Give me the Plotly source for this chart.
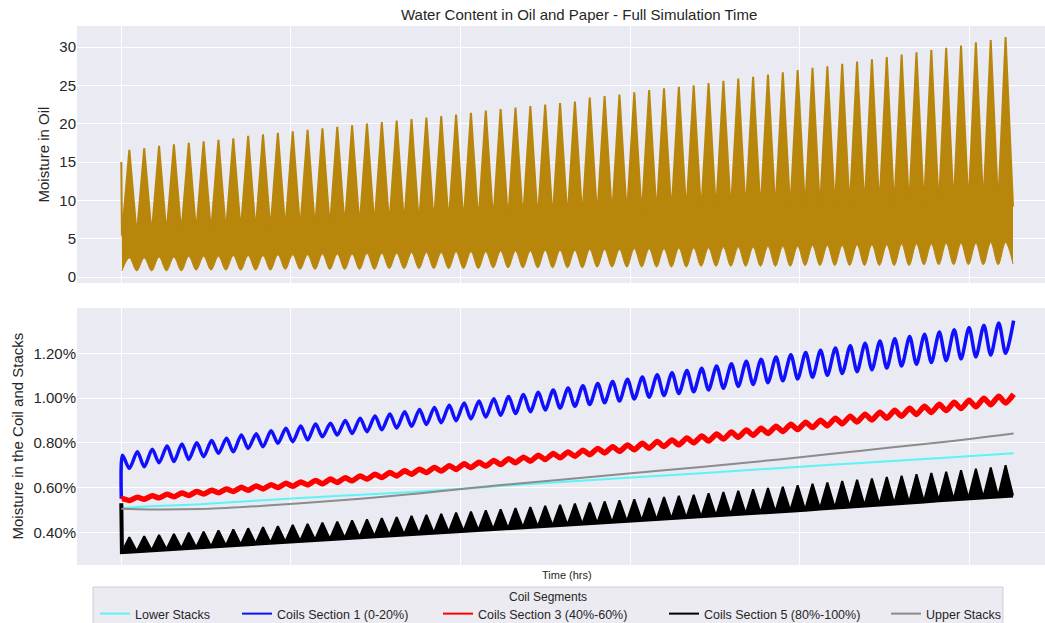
import plotly.graph_objects as go

# ---------------- Moisture in oil (ppm) ----------------
# daily cycles: spike maxima / lower-band humps at the spike times,
# band tops / band bottoms at the times between spikes
oil_start = 15.0
oil_peak = [16.6, 16.8, 17.1, 17.3, 17.5, 17.7, 17.9, 18.1, 18.4, 18.6,
            18.8, 19.0, 19.2, 19.4, 19.6, 19.8, 20.0, 20.2, 20.4, 20.6,
            20.8, 21.0, 21.2, 21.4, 21.7, 21.9, 22.1, 22.3, 22.5, 22.7,
            22.9, 23.4, 23.6, 23.8, 24.1, 24.4, 24.6, 24.8, 25.0, 25.3,
            25.6, 25.9, 26.1, 26.4, 26.7, 27.0, 27.3, 27.5, 27.8, 28.1,
            28.4, 28.7, 29.0, 29.3, 29.6, 29.9, 30.2, 30.6, 30.9, 31.3]
oil_band_top = [5.4, 5.4, 5.5, 5.6, 5.7, 5.8, 5.8, 5.9, 6.0, 6.0,
                6.1, 6.2, 6.2, 6.3, 6.4, 6.5, 6.5, 6.6, 6.7, 6.8,
                6.8, 6.9, 7.0, 7.0, 7.1, 7.2, 7.3, 7.4, 7.4, 7.5,
                7.6, 7.7, 7.8, 7.9, 8.0, 8.0, 8.1, 8.2, 8.3, 8.3,
                8.4, 8.4, 8.5, 8.5, 8.6, 8.6, 8.7, 8.7, 8.8, 8.8,
                8.8, 8.9, 8.9, 9.0, 9.0, 9.0, 9.1, 9.1, 9.2, 9.2, 9.2]
oil_hump = [2.5, 2.5, 2.6, 2.6, 2.7, 2.7, 2.7, 2.8, 2.8, 2.8,
            2.9, 2.9, 2.9, 3.0, 3.0, 3.0, 3.1, 3.1, 3.1, 3.2,
            3.2, 3.2, 3.3, 3.3, 3.3, 3.4, 3.4, 3.4, 3.5, 3.5,
            3.5, 3.6, 3.6, 3.6, 3.7, 3.7, 3.7, 3.8, 3.8, 3.8,
            3.9, 3.9, 3.9, 4.0, 4.0, 4.0, 4.1, 4.1, 4.1, 4.2,
            4.2, 4.2, 4.3, 4.3, 4.3, 4.4, 4.4, 4.4, 4.5, 4.5]
oil_trough = [0.8, 0.8, 0.8, 0.8, 0.8, 0.9, 0.9, 0.9, 0.9, 0.9,
              0.9, 1.0, 1.0, 1.0, 1.0, 1.0, 1.0, 1.0, 1.1, 1.1,
              1.1, 1.1, 1.1, 1.1, 1.1, 1.2, 1.2, 1.2, 1.2, 1.2,
              1.2, 1.2, 1.3, 1.3, 1.3, 1.3, 1.3, 1.3, 1.3, 1.4,
              1.4, 1.4, 1.4, 1.4, 1.4, 1.4, 1.5, 1.5, 1.5, 1.5,
              1.5, 1.5, 1.5, 1.5, 1.6, 1.6, 1.6, 1.6, 1.6, 1.6, 1.7]

# ---------------- Moisture in coils and stacks (%) ----------------
coil1_start = 0.55
coil1_high = [0.745, 0.760, 0.771, 0.786, 0.795, 0.800, 0.810, 0.820, 0.835, 0.840,
              0.854, 0.865, 0.875, 0.884, 0.887, 0.900, 0.910, 0.920, 0.929, 0.939,
              0.949, 0.958, 0.968, 0.978, 0.987, 0.997, 1.007, 1.016, 1.026, 1.036,
              1.045, 1.055, 1.065, 1.074, 1.084, 1.094, 1.104, 1.113, 1.123, 1.133,
              1.143, 1.153, 1.164, 1.174, 1.184, 1.194, 1.204, 1.214, 1.224, 1.234,
              1.245, 1.255, 1.265, 1.275, 1.285, 1.295, 1.305, 1.315, 1.325, 1.336, 1.346]
coil1_low = [0.686, 0.693, 0.711, 0.716, 0.726, 0.738, 0.753, 0.760, 0.775, 0.783,
             0.798, 0.805, 0.813, 0.827, 0.835, 0.842, 0.850, 0.858, 0.866, 0.874,
             0.882, 0.890, 0.899, 0.907, 0.915, 0.923, 0.931, 0.939, 0.947, 0.955,
             0.963, 0.971, 0.979, 0.987, 0.996, 1.004, 1.012, 1.020, 1.028, 1.036,
             1.044, 1.052, 1.061, 1.069, 1.077, 1.085, 1.093, 1.102, 1.110, 1.118,
             1.126, 1.134, 1.143, 1.151, 1.159, 1.167, 1.175, 1.184, 1.192, 1.200]

coil3_start = 0.55
coil3_high = [0.551, 0.557, 0.563, 0.570, 0.576, 0.582, 0.588, 0.594, 0.601, 0.607,
              0.613, 0.619, 0.625, 0.632, 0.638, 0.644, 0.652, 0.659, 0.667, 0.675,
              0.682, 0.690, 0.698, 0.706, 0.713, 0.721, 0.729, 0.736, 0.744, 0.752,
              0.759, 0.767, 0.775, 0.783, 0.790, 0.798, 0.806, 0.813, 0.821, 0.830,
              0.839, 0.848, 0.857, 0.865, 0.874, 0.883, 0.892, 0.901, 0.910, 0.919,
              0.928, 0.937, 0.945, 0.954, 0.963, 0.972, 0.981, 0.990, 0.999, 1.008, 1.017]
coil3_low = [0.542, 0.548, 0.554, 0.559, 0.565, 0.571, 0.577, 0.583, 0.588, 0.594,
             0.600, 0.606, 0.612, 0.617, 0.623, 0.630, 0.638, 0.645, 0.652, 0.660,
             0.667, 0.674, 0.681, 0.689, 0.696, 0.703, 0.711, 0.718, 0.725, 0.733,
             0.740, 0.747, 0.755, 0.762, 0.769, 0.776, 0.784, 0.791, 0.800, 0.808,
             0.817, 0.825, 0.834, 0.842, 0.851, 0.859, 0.868, 0.876, 0.885, 0.893,
             0.902, 0.910, 0.919, 0.927, 0.936, 0.944, 0.953, 0.961, 0.970, 0.978]

coil5_start = 0.53
coil5_peak = [0.378, 0.383, 0.388, 0.393, 0.398, 0.403, 0.408, 0.413, 0.418, 0.423,
              0.428, 0.433, 0.438, 0.443, 0.448, 0.453, 0.458, 0.463, 0.468, 0.473,
              0.478, 0.483, 0.488, 0.493, 0.498, 0.503, 0.508, 0.513, 0.518, 0.523,
              0.528, 0.533, 0.538, 0.543, 0.548, 0.553, 0.558, 0.563, 0.568, 0.574,
              0.580, 0.586, 0.592, 0.598, 0.604, 0.610, 0.617, 0.623, 0.629, 0.635,
              0.641, 0.647, 0.653, 0.659, 0.665, 0.671, 0.677, 0.684, 0.690, 0.700]
coil5_base = [0.312, 0.316, 0.320, 0.325, 0.329, 0.333, 0.337, 0.341, 0.346, 0.350,
              0.354, 0.358, 0.362, 0.367, 0.371, 0.375, 0.379, 0.383, 0.387, 0.391,
              0.394, 0.398, 0.402, 0.406, 0.410, 0.414, 0.418, 0.422, 0.426, 0.430,
              0.433, 0.437, 0.441, 0.445, 0.449, 0.453, 0.457, 0.461, 0.465, 0.469,
              0.474, 0.478, 0.483, 0.487, 0.492, 0.497, 0.501, 0.506, 0.510, 0.515,
              0.520, 0.524, 0.529, 0.533, 0.538, 0.543, 0.547, 0.552, 0.556, 0.561, 0.565]

# stacks: slow curves sampled at these times (hrs)
stack_t = [0, 47, 128, 209, 290, 387, 484, 602, 710, 824, 937, 1067, 1196, 1325, 1442]
lower_stacks = [0.508, 0.516, 0.526, 0.540, 0.553, 0.568, 0.583, 0.605, 0.625, 0.645,
                0.664, 0.688, 0.710, 0.732, 0.753]
upper_stacks = [0.505, 0.502, 0.504, 0.515, 0.530, 0.550, 0.575, 0.608, 0.635, 0.664,
                0.692, 0.727, 0.765, 0.803, 0.842]

y2_ticks = [0.4, 0.6, 0.8, 1.0, 1.2]
y2_labels = ["0.40%", "0.60%", "0.80%", "1.00%", "1.20%"]

# legend entries: name, colour
series_names = ["Lower Stacks", "Coils Section 1 (0-20%)", "Coils Section 3 (40%-60%)",
                "Coils Section 5 (80%-100%)", "Upper Stacks"]
series_colors = ["#5CF5F5", "#1010FF", "#FF0000", "#000000", "#8C8C8C"]

# ---------------- time bases (hrs) ----------------
CYCLE = 24
spike_t = [13 + CYCLE * k for k in range(len(oil_peak))]
gap_t = [1 + CYCLE * k for k in range(len(oil_band_top))]
coil_hi_t = [2 + CYCLE * k for k in range(len(coil1_high))]
coil_lo_t = [13 + CYCLE * k for k in range(len(coil1_low))]


def interleave(xa, ya, xb, yb):
    xs, ys = [], []
    for i in range(len(xa)):
        xs.append(xa[i]); ys.append(ya[i])
        if i < len(xb):
            xs.append(xb[i]); ys.append(yb[i])
    return xs, ys


OIL = "#B8860B"
TXT = "#262626"
BG = "#EAEAF2"
W, H = 1045, 623
ML, MR, MT, MB = 77, 0, 26, 58
PH = H - MT - MB
PW = W - ML - MR


def px_x(p):
    return (p - ML) / PW


def px_y(p):
    return (H - MB - p) / PH


fig = go.Figure()

# oil moisture band
lo_x, lo_y = interleave(gap_t, oil_trough, spike_t, oil_hump)
hi_x, hi_y = interleave(gap_t, oil_band_top, spike_t, oil_peak)
fig.add_trace(go.Scatter(x=lo_x, y=lo_y, mode="lines", line=dict(color=OIL, width=1, shape="spline"),
                         xaxis="x", yaxis="y", showlegend=False, hoverinfo="skip"))
fig.add_trace(go.Scatter(x=[0] + hi_x, y=[oil_start] + hi_y, mode="lines",
                         line=dict(color=OIL, width=2), fill="tonexty", fillcolor=OIL,
                         xaxis="x", yaxis="y", showlegend=False, name="Moisture in Oil"))

# lower stacks
fig.add_trace(go.Scatter(x=stack_t, y=lower_stacks, mode="lines", name=series_names[0],
                         line=dict(color=series_colors[0], width=2, shape="spline"),
                         xaxis="x2", yaxis="y2", showlegend=False))

# coils section 1
c1x, c1y = interleave(coil_hi_t, coil1_high, coil_lo_t, coil1_low)
fig.add_trace(go.Scatter(x=[0] + c1x, y=[coil1_start] + c1y, mode="lines", name=series_names[1],
                         line=dict(color=series_colors[1], width=3.5, shape="spline", smoothing=0.8),
                         xaxis="x2", yaxis="y2", showlegend=False))

# coils section 3
c3x, c3y = interleave(coil_hi_t, coil3_high, coil_lo_t, coil3_low)
fig.add_trace(go.Scatter(x=[0] + c3x, y=[coil3_start] + c3y, mode="lines", name=series_names[2],
                         line=dict(color=series_colors[2], width=5.5, shape="spline", smoothing=0.6),
                         xaxis="x2", yaxis="y2", showlegend=False))

# coils section 5: base line plus filled daily peaks
fig.add_trace(go.Scatter(x=[0] + gap_t, y=[coil5_start] + coil5_base, mode="lines",
                         name=series_names[3], line=dict(color=series_colors[3], width=4),
                         xaxis="x2", yaxis="y2", showlegend=False))
c5x, c5y = interleave(gap_t, coil5_base, spike_t, coil5_peak)
fig.add_trace(go.Scatter(x=c5x, y=c5y, mode="lines", showlegend=False,
                         line=dict(color=series_colors[3], width=2), fill="tonexty",
                         fillcolor=series_colors[3], xaxis="x2", yaxis="y2", hoverinfo="skip"))

# upper stacks
fig.add_trace(go.Scatter(x=stack_t, y=upper_stacks, mode="lines", name=series_names[4],
                         line=dict(color=series_colors[4], width=2, shape="spline"),
                         xaxis="x2", yaxis="y2", showlegend=False))

# legend keys (thin lines), one legend per entry so each sits at its own column
legend_line_px = [100, 242, 443, 669, 891]
legend_layouts = {}
for i, (name, col) in enumerate(zip(series_names, series_colors)):
    lg = "legend" if i == 0 else f"legend{i + 1}"
    fig.add_trace(go.Scatter(x=[None], y=[None], mode="lines", name=name,
                             line=dict(color=col, width=2), xaxis="x2", yaxis="y2",
                             legend=lg, showlegend=True))
    legend_layouts[lg] = dict(orientation="h", x=px_x(legend_line_px[i] - 5), xanchor="left",
                              y=px_y(614), yanchor="middle", bgcolor="rgba(0,0,0,0)",
                              borderwidth=0, font=dict(size=12.5, color=TXT), itemwidth=30)

xaxis_common = dict(range=[-71.6, 1492.7], tick0=0, dtick=274.1, showticklabels=False,
                    showgrid=True, gridcolor="white", gridwidth=1, zeroline=False,
                    showline=False, ticks="")
fig.update_layout(
    width=W, height=H,
    margin=dict(l=ML, r=MR, t=MT, b=MB, autoexpand=False),
    paper_bgcolor="white", plot_bgcolor=BG,
    font=dict(family="Liberation Sans, Arial, sans-serif", color=TXT),
    xaxis=dict(domain=[0, 1], anchor="y", **xaxis_common),
    xaxis2=dict(domain=[0, 1], anchor="y2", matches="x", **xaxis_common),
    yaxis=dict(domain=[px_y(283), 1], anchor="x", range=[-0.78, 32.74], tick0=0, dtick=5,
               showgrid=True, gridcolor="white", gridwidth=1, zeroline=False, ticks="",
               tickfont=dict(size=15, color=TXT)),
    yaxis2=dict(domain=[0, px_y(308)], anchor="x2", range=[0.254, 1.4025],
                tickmode="array", tickvals=y2_ticks, ticktext=y2_labels,
                showgrid=True, gridcolor="white", gridwidth=1, zeroline=False, ticks="",
                tickfont=dict(size=15, color=TXT)),
    shapes=[
        # legend frame
        dict(type="rect", xref="paper", yref="paper", x0=px_x(93), x1=px_x(1003),
             y0=px_y(587), y1=px_y(650), fillcolor="#EBEBF1", line=dict(color="#CFCFD6", width=1),
             layer="below"),
    ],
    annotations=[
        dict(text="Water Content in Oil and Paper - Full Simulation Time", xref="paper", yref="paper",
             x=px_x(579), y=px_y(14), xanchor="center", yanchor="middle", showarrow=False,
             font=dict(size=15, color=TXT)),
        dict(text="Moisture in Oil", xref="paper", yref="paper", x=px_x(43), y=px_y(154.5),
             xanchor="center", yanchor="middle", textangle=-90, showarrow=False,
             font=dict(size=15, color=TXT)),
        dict(text="Moisture in the Coil and Stacks", xref="paper", yref="paper", x=px_x(17),
             y=px_y(436.5), xanchor="center", yanchor="middle", textangle=-90, showarrow=False,
             font=dict(size=15, color=TXT)),
        dict(text="Time (hrs)", xref="paper", yref="paper", x=px_x(567), y=px_y(575),
             xanchor="center", yanchor="middle", showarrow=False, font=dict(size=11, color=TXT)),
        dict(text="Coil Segments", xref="paper", yref="paper", x=px_x(548), y=px_y(597),
             xanchor="center", yanchor="middle", showarrow=False, font=dict(size=12, color=TXT)),
    ],
    **legend_layouts,
)

fig.write_html("out.html")
